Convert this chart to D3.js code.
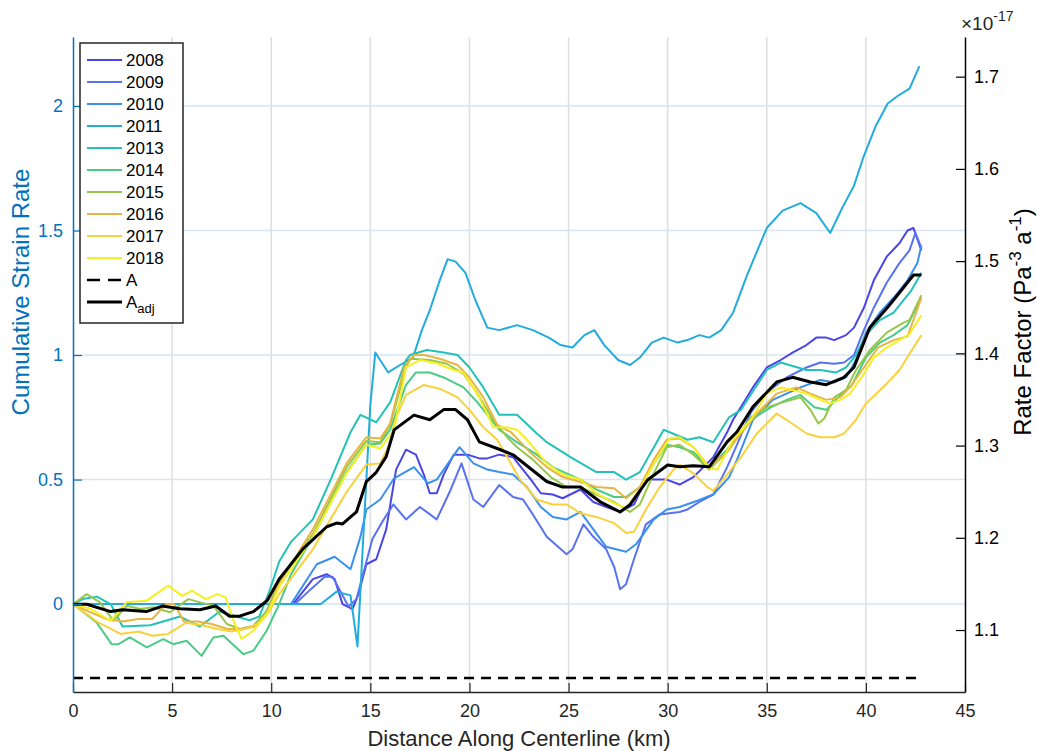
<!DOCTYPE html>
<html>
<head>
<meta charset="utf-8">
<script src="https://cdn.jsdelivr.net/npm/d3@7"></script>
<style>
  body { margin: 0; background: #fff; }
  svg text { font-family: "Liberation Sans", Arial, Helvetica, sans-serif; }
</style>
</head>
<body>
<svg width="1037" height="751"></svg>
<script>
// ---- data: [distance (km), cumulative strain rate] ----
var s2008 = [[0,0],[11.1,0],[12.1,0.10],[12.8,0.12],[13.2,0.10],[13.6,0.0],[14.1,-0.02],[14.4,0.04],[14.8,0.16],[15.3,0.18],[15.8,0.30],[16.3,0.54],[16.8,0.62],[17.3,0.60],[17.7,0.52],[18.0,0.445],[18.35,0.445],[18.7,0.52],[19.2,0.60],[19.9,0.60],[20.5,0.585],[20.9,0.585],[21.5,0.60],[22.2,0.59],[23.1,0.50],[23.6,0.445],[24.2,0.44],[24.7,0.425],[25.6,0.46],[26.25,0.41],[26.9,0.39],[27.6,0.37],[28.3,0.40],[28.9,0.50],[29.95,0.50],[30.6,0.48],[31.3,0.51],[32.0,0.565],[32.3,0.59],[33.0,0.69],[33.3,0.74],[34.3,0.87],[35.0,0.95],[35.7,0.98],[36.3,1.01],[37.0,1.04],[37.5,1.07],[38.0,1.07],[38.4,1.06],[39.0,1.08],[39.4,1.11],[39.9,1.19],[40.4,1.30],[41.05,1.395],[41.7,1.45],[42.1,1.50],[42.4,1.51],[42.8,1.42]];
var s2009 = [[0,0],[11.2,0],[12.0,0.06],[12.7,0.11],[13.1,0.11],[13.5,0.05],[13.9,-0.01],[14.3,0.02],[14.7,0.14],[15.1,0.26],[15.6,0.33],[16.16,0.40],[16.8,0.34],[17.5,0.39],[18.35,0.34],[19.0,0.45],[19.6,0.565],[20.2,0.42],[20.7,0.39],[21.5,0.478],[22.2,0.43],[22.7,0.42],[23.2,0.36],[23.9,0.27],[24.9,0.20],[25.2,0.22],[25.75,0.32],[26.25,0.27],[26.9,0.22],[27.3,0.15],[27.6,0.06],[27.9,0.08],[28.3,0.18],[28.9,0.32],[29.6,0.36],[30.6,0.37],[31.0,0.38],[31.6,0.41],[32.3,0.44],[33.0,0.55],[33.5,0.64],[34.2,0.77],[35.0,0.85],[36.0,0.91],[37.0,0.95],[37.7,0.97],[38.4,0.965],[38.9,0.97],[39.4,1.0],[39.9,1.10],[40.4,1.19],[41.05,1.29],[41.7,1.37],[42.2,1.42],[42.5,1.49],[42.8,1.43]];
var s2010 = [[0,0],[11.0,0],[12.3,0.16],[13.2,0.19],[14.0,0.14],[14.5,0.27],[14.8,0.38],[15.5,0.42],[16.2,0.505],[17.2,0.55],[17.9,0.485],[18.35,0.50],[19.5,0.63],[20.2,0.565],[20.9,0.54],[21.5,0.53],[22.2,0.52],[22.9,0.47],[23.6,0.39],[24.2,0.35],[24.9,0.34],[25.6,0.37],[26.25,0.30],[26.9,0.23],[27.9,0.21],[28.4,0.24],[29.3,0.34],[29.95,0.38],[30.6,0.39],[31.5,0.415],[32.3,0.44],[33.1,0.51],[33.5,0.58],[34.3,0.74],[35.3,0.82],[36.7,0.87],[37.7,0.90],[38.4,0.89],[39.0,0.91],[39.5,0.98],[40.0,1.09],[40.7,1.17],[41.4,1.23],[42.1,1.30],[42.6,1.37],[42.8,1.44]];
var s2011 = [[0,0],[12.5,0],[13.3,0.05],[14.0,0.035],[14.35,-0.17],[14.7,0.35],[15.0,0.80],[15.25,1.01],[15.9,0.93],[16.5,0.96],[17.15,0.99],[17.6,1.10],[18.0,1.18],[18.5,1.30],[18.9,1.385],[19.3,1.375],[19.8,1.33],[20.3,1.22],[20.9,1.11],[21.5,1.10],[22.4,1.12],[23.2,1.10],[24.0,1.07],[24.6,1.04],[25.2,1.03],[25.8,1.08],[26.3,1.10],[26.8,1.04],[27.5,0.98],[28.1,0.96],[28.6,0.99],[29.2,1.05],[29.8,1.07],[30.5,1.05],[31.0,1.06],[31.6,1.08],[32.1,1.07],[32.7,1.10],[33.3,1.17],[34.0,1.32],[35.0,1.51],[35.8,1.58],[36.7,1.61],[37.5,1.57],[38.2,1.49],[38.8,1.59],[39.4,1.68],[39.9,1.80],[40.5,1.92],[41.1,2.01],[41.6,2.04],[42.2,2.07],[42.7,2.16]];
var s2013 = [[0,0],[0.5,0.02],[1.2,0.03],[1.9,0.0],[2.5,-0.09],[3.9,-0.085],[5.4,-0.05],[6.4,-0.09],[7.4,-0.03],[8.9,-0.065],[9.4,-0.05],[9.9,0.05],[10.4,0.17],[11.0,0.25],[12.1,0.34],[13.0,0.50],[14.0,0.69],[14.5,0.76],[15.3,0.73],[16.0,0.81],[16.8,0.98],[17.0,1.0],[17.85,1.02],[18.7,1.01],[19.4,1.0],[20.0,0.95],[20.7,0.87],[21.5,0.76],[22.4,0.76],[23.4,0.685],[23.9,0.65],[25.1,0.59],[26.4,0.53],[27.3,0.53],[27.9,0.50],[28.6,0.53],[29.8,0.70],[31.0,0.66],[31.6,0.67],[32.3,0.65],[33.1,0.75],[33.7,0.78],[35.0,0.94],[35.7,0.97],[37.0,0.94],[37.7,0.94],[38.5,0.93],[39.0,0.95],[39.5,1.0],[40.0,1.08],[40.7,1.14],[41.4,1.17],[41.9,1.22],[42.3,1.26],[42.8,1.33]];
var s2014 = [[0,0],[1.19,-0.074],[1.95,-0.161],[2.29,-0.161],[2.87,-0.134],[3.72,-0.174],[4.56,-0.141],[5.06,-0.161],[5.73,-0.147],[6.49,-0.208],[7.08,-0.134],[7.59,-0.127],[8.6,-0.201],[9.1,-0.187],[9.77,-0.107],[10.4,0.0],[11.0,0.12],[12.1,0.27],[13.8,0.53],[14.8,0.64],[15.5,0.645],[16.0,0.70],[16.8,0.88],[17.3,0.93],[18.0,0.93],[18.7,0.91],[19.7,0.87],[20.4,0.81],[21.5,0.70],[22.4,0.65],[23.4,0.60],[24.2,0.55],[24.9,0.525],[25.6,0.50],[26.4,0.46],[27.3,0.43],[27.9,0.43],[28.6,0.47],[29.3,0.565],[29.95,0.64],[30.6,0.63],[31.3,0.61],[32.1,0.55],[33.0,0.62],[34.2,0.74],[35.2,0.79],[36.0,0.82],[36.7,0.84],[37.4,0.79],[38.0,0.78],[38.6,0.83],[39.3,0.88],[40.0,0.99],[40.7,1.05],[41.4,1.08],[42.1,1.12],[42.8,1.23]];
var s2015 = [[0,0],[0.69,0.04],[1.36,0.007],[2.04,-0.067],[2.71,-0.007],[3.38,-0.02],[4.05,-0.013],[4.89,-0.033],[5.23,-0.013],[5.82,0.02],[6.41,0.007],[7.08,-0.007],[7.76,-0.08],[8.43,-0.1],[9.1,-0.087],[9.77,-0.027],[10.4,0.09],[12.1,0.28],[13.8,0.55],[14.8,0.655],[15.5,0.65],[16.0,0.72],[16.8,0.95],[17.0,0.985],[18.0,0.98],[18.85,0.965],[19.7,0.925],[20.4,0.845],[21.2,0.74],[21.9,0.67],[22.4,0.63],[23.2,0.58],[24.1,0.51],[24.9,0.47],[25.6,0.47],[26.4,0.44],[27.3,0.41],[28.1,0.37],[28.6,0.40],[29.3,0.525],[29.95,0.63],[30.6,0.64],[31.3,0.60],[32.1,0.54],[33.1,0.62],[34.2,0.75],[35.0,0.79],[35.8,0.81],[36.7,0.83],[37.2,0.78],[37.6,0.725],[37.9,0.745],[38.4,0.83],[39.0,0.86],[39.5,0.94],[40.2,1.02],[41.05,1.09],[41.9,1.13],[42.2,1.14],[42.8,1.24]];
var s2016 = [[0,0],[0.8,-0.03],[1.7,-0.06],[2.5,-0.07],[3.3,-0.06],[4.0,-0.06],[4.7,0.0],[5.1,0.0],[5.6,-0.07],[6.3,-0.07],[7.0,-0.08],[7.8,-0.1],[8.5,-0.1],[9.2,-0.09],[9.8,-0.04],[10.4,0.083],[12.1,0.30],[13.8,0.565],[14.8,0.67],[15.5,0.665],[16.0,0.725],[16.7,0.95],[17.2,1.0],[17.7,1.0],[18.5,0.985],[19.4,0.96],[20.0,0.91],[20.7,0.83],[21.4,0.72],[22.1,0.69],[23.05,0.61],[23.9,0.55],[24.7,0.51],[25.6,0.49],[26.4,0.47],[27.3,0.465],[27.9,0.425],[28.6,0.47],[29.3,0.58],[29.95,0.66],[30.6,0.665],[31.3,0.63],[32.1,0.55],[33.0,0.61],[33.3,0.645],[34.5,0.765],[35.5,0.845],[36.5,0.87],[37.2,0.845],[38.0,0.82],[38.7,0.83],[39.2,0.87],[39.9,0.95],[40.6,1.03],[41.4,1.06],[42.1,1.075],[42.8,1.23]];
var s2017 = [[0,0],[1.2,-0.07],[2.4,-0.12],[3.3,-0.11],[4.0,-0.127],[4.8,-0.12],[5.7,-0.075],[6.5,-0.085],[7.3,-0.1],[8.0,-0.11],[8.7,-0.1],[9.3,-0.08],[9.9,-0.03],[10.4,0.04],[12.1,0.22],[13.8,0.45],[14.8,0.56],[15.5,0.565],[15.9,0.63],[16.3,0.75],[16.8,0.84],[17.7,0.88],[18.5,0.865],[19.4,0.83],[20.0,0.78],[20.7,0.71],[21.4,0.66],[22.55,0.50],[23.4,0.42],[24.2,0.40],[24.9,0.40],[25.6,0.365],[26.4,0.35],[27.3,0.325],[27.9,0.285],[28.3,0.29],[28.9,0.38],[29.6,0.47],[30.3,0.54],[30.6,0.56],[31.3,0.525],[32.0,0.47],[32.3,0.455],[33.0,0.52],[33.7,0.59],[34.5,0.685],[35.5,0.765],[36.0,0.74],[37.0,0.685],[37.7,0.67],[38.4,0.67],[38.9,0.685],[39.5,0.74],[40.0,0.805],[41.05,0.885],[41.7,0.94],[42.2,1.005],[42.8,1.08]];
var s2018 = [[0,0],[0.9,-0.02],[1.9,-0.067],[2.7,0.007],[3.7,0.013],[4.8,0.074],[5.5,0.033],[6.0,0.054],[6.7,0.02],[7.3,0.04],[7.7,0.027],[8.1,-0.067],[8.5,-0.14],[9.1,-0.107],[9.8,-0.04],[10.4,0.07],[12.1,0.27],[13.8,0.525],[14.8,0.64],[15.5,0.625],[16.2,0.70],[16.8,0.95],[17.5,0.98],[18.35,0.967],[19.2,0.94],[19.7,0.93],[20.5,0.83],[21.2,0.71],[21.9,0.71],[22.4,0.70],[22.9,0.66],[23.9,0.565],[24.7,0.52],[25.6,0.50],[26.4,0.445],[27.3,0.405],[27.9,0.385],[28.6,0.46],[29.3,0.565],[30.1,0.665],[30.6,0.67],[31.3,0.63],[32.1,0.545],[32.5,0.54],[33.3,0.66],[34.2,0.74],[35.0,0.845],[35.7,0.87],[36.3,0.86],[37.0,0.845],[37.7,0.82],[38.2,0.805],[38.7,0.82],[39.2,0.845],[39.9,0.925],[40.4,0.99],[41.05,1.03],[41.7,1.06],[42.2,1.085],[42.8,1.16]];

// rate factor (x 1e-17 Pa^-3 a^-1), right axis
var rateA = [[0,1.048],[42.8,1.048]];
var rateAadj = [[0,1.128],[0.7,1.128],[1.9,1.120],[2.5,1.122],[3.7,1.120],[4.5,1.126],[5.4,1.123],[6.4,1.122],[7.2,1.126],[7.9,1.115],[8.4,1.115],[9.1,1.120],[9.8,1.132],[10.4,1.155],[11.6,1.188],[12.8,1.212],[13.3,1.216],[13.6,1.215],[14.3,1.228],[14.8,1.261],[15.3,1.271],[15.8,1.288],[16.2,1.317],[17.2,1.333],[18.0,1.328],[18.7,1.339],[19.3,1.339],[19.9,1.328],[20.5,1.304],[21.5,1.296],[22.2,1.290],[23.9,1.261],[24.7,1.255],[25.6,1.255],[26.6,1.239],[27.6,1.228],[28.1,1.236],[29.0,1.263],[30.0,1.279],[30.6,1.277],[31.3,1.278],[32.1,1.277],[33.0,1.304],[33.5,1.315],[34.3,1.342],[35.5,1.369],[36.3,1.374],[37.2,1.369],[38.0,1.366],[38.9,1.374],[39.4,1.385],[40.2,1.428],[41.1,1.450],[41.7,1.466],[42.4,1.485],[42.8,1.485]];

var years = ["2008", "2009", "2010", "2011", "2013", "2014", "2015", "2016", "2017", "2018"];
var yearSeries = [s2008, s2009, s2010, s2011, s2013, s2014, s2015, s2016, s2017, s2018];
var yearColors = ["#4b45e6", "#5872f2", "#3a90ec", "#22acdd", "#22c2b8", "#4acb86", "#97c74a", "#e8b640", "#f9d13a", "#f5f020"];

var xTicks = [0, 5, 10, 15, 20, 25, 30, 35, 40, 45];
var leftTicks = [0, 0.5, 1, 1.5, 2];
var rightTicks = [1.1, 1.2, 1.3, 1.4, 1.5, 1.6, 1.7];

// ---- layout ----
var svg = d3.select("svg");
var plotLeft = 73, plotRight = 965, plotTop = 37, plotBottom = 692;
var blue = "#0072bd";
var tickFont = 18, labelFont = 24;

var x = d3.scaleLinear().domain([0, 45]).range([plotLeft, plotRight]);
var yL = d3.scaleLinear().domain([-0.353, 2.277]).range([plotBottom, plotTop]);
var yR = d3.scaleLinear().domain([1.0328, 1.743]).range([plotBottom, plotTop]);

// grid lines
svg.append("g").selectAll("line")
    .data(xTicks.slice(1, -1))
    .enter().append("line")
    .attr("x1", d => x(d)).attr("x2", d => x(d))
    .attr("y1", plotTop).attr("y2", plotBottom)
    .attr("stroke", "#dedede").attr("stroke-width", 1.5);

svg.append("g").selectAll("line")
    .data(leftTicks)
    .enter().append("line")
    .attr("x1", plotLeft).attr("x2", plotRight)
    .attr("y1", d => yL(d)).attr("y2", d => yL(d))
    .attr("stroke", "#d5e5f4").attr("stroke-width", 1.5);

// year curves
var lineL = d3.line().x(d => x(d[0])).y(d => yL(d[1]));
var lineR = d3.line().x(d => x(d[0])).y(d => yR(d[1]));

svg.append("g").selectAll("path")
    .data(yearSeries)
    .enter().append("path")
    .attr("d", lineL)
    .attr("fill", "none")
    .attr("stroke", (d, i) => yearColors[i])
    .attr("stroke-width", 2)
    .attr("stroke-linejoin", "round");

// rate factors
svg.append("path").attr("d", lineR(rateA))
    .attr("fill", "none").attr("stroke", "#000")
    .attr("stroke-width", 2.5).attr("stroke-dasharray", "10,7");
svg.append("path").attr("d", lineR(rateAadj))
    .attr("fill", "none").attr("stroke", "#000")
    .attr("stroke-width", 3).attr("stroke-linejoin", "round");

// axes
var xAxis = svg.append("g")
    .attr("transform", "translate(0," + plotBottom + ")")
    .call(d3.axisBottom(x).tickValues(xTicks).tickSize(-9).tickPadding(12).tickSizeOuter(0));
xAxis.select(".domain").attr("stroke", "#262626").attr("stroke-width", 1.5);
xAxis.selectAll(".tick line").attr("stroke", "#262626").attr("stroke-width", 1.2);
xAxis.selectAll("text").attr("fill", "#262626").attr("font-size", tickFont);

var lAxis = svg.append("g")
    .attr("transform", "translate(" + plotLeft + ",0)")
    .call(d3.axisLeft(yL).tickValues(leftTicks).tickFormat(d => String(d)).tickSize(-9).tickPadding(10).tickSizeOuter(0));
lAxis.select(".domain").attr("stroke", blue).attr("stroke-width", 1.5);
lAxis.selectAll(".tick line").attr("stroke", blue).attr("stroke-width", 1.2);
lAxis.selectAll("text").attr("fill", blue).attr("font-size", tickFont);

var rAxis = svg.append("g")
    .attr("transform", "translate(" + plotRight + ",0)")
    .call(d3.axisRight(yR).tickValues(rightTicks).tickFormat(d3.format(".1f")).tickSize(-9).tickPadding(9).tickSizeOuter(0));
rAxis.select(".domain").attr("stroke", "#000").attr("stroke-width", 1.5);
rAxis.selectAll(".tick line").attr("stroke", "#000").attr("stroke-width", 1.2);
rAxis.selectAll("text").attr("fill", "#000").attr("font-size", tickFont);

// axis labels
svg.append("text")
    .attr("x", (plotLeft + plotRight) / 2).attr("y", 746)
    .attr("text-anchor", "middle").attr("font-size", 22).attr("fill", "#262626")
    .text("Distance Along Centerline (km)");

svg.append("text")
    .attr("transform", "translate(29,292) rotate(-90)")
    .attr("text-anchor", "middle").attr("font-size", labelFont).attr("fill", blue)
    .text("Cumulative Strain Rate");

var rLabel = svg.append("text")
    .attr("transform", "translate(1031,322) rotate(-90)")
    .attr("text-anchor", "middle").attr("font-size", labelFont).attr("fill", "#000");
rLabel.append("tspan").text("Rate Factor (Pa");
rLabel.append("tspan").attr("dy", -10).attr("font-size", 17).text("-3");
rLabel.append("tspan").attr("dy", 10).text(" a");
rLabel.append("tspan").attr("dy", -10).attr("font-size", 17).text("-1");
rLabel.append("tspan").attr("dy", 10).text(")");

var expLabel = svg.append("text")
    .attr("x", 961).attr("y", 30).attr("font-size", 19).attr("fill", "#262626");
expLabel.append("tspan").text("\u00d710");
expLabel.append("tspan").attr("dy", -9).attr("font-size", 14).text("-17");

// legend
var legend = svg.append("g");
legend.append("rect")
    .attr("x", 80).attr("y", 43).attr("width", 103).attr("height", 280)
    .attr("fill", "#fff").attr("stroke", "#262626").attr("stroke-width", 1.5);

var legendItems = years.map((y, i) => ({ label: y, color: yearColors[i], dash: null, w: 2 }));
legendItems.push({ label: "A", color: "#000", dash: "13,8", w: 2.5 });
legendItems.push({ label: "A", sub: "adj", color: "#000", dash: null, w: 3 });

var rows = legend.selectAll("g.item")
    .data(legendItems)
    .enter().append("g")
    .attr("class", "item")
    .attr("transform", (d, i) => "translate(0," + (60 + i * 22) + ")");

rows.append("line")
    .attr("x1", 87).attr("x2", 122)
    .attr("stroke", d => d.color).attr("stroke-width", d => d.w)
    .attr("stroke-dasharray", d => d.dash);

var rowText = rows.append("text")
    .attr("x", 126).attr("y", 6)
    .attr("font-size", 17).attr("fill", "#000");
rowText.append("tspan").text(d => d.label);
rowText.filter(d => d.sub).append("tspan")
    .attr("dy", 5).attr("font-size", 13).text(d => d.sub);
</script>
</body>
</html>
